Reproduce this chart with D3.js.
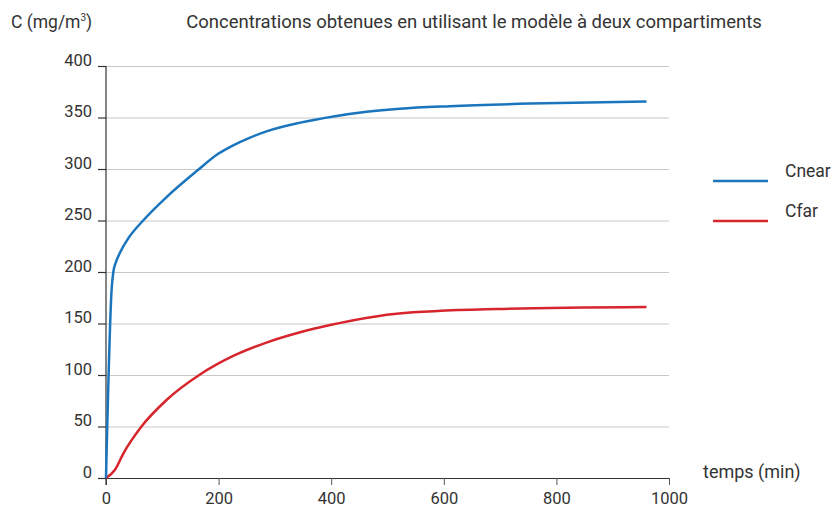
<!DOCTYPE html>
<html>
<head>
<meta charset="utf-8">
<script src="https://cdn.jsdelivr.net/npm/d3@7"></script>
<style>
  body { margin: 0; background: #fff; }
  text { font-family: Roboto, "DejaVu Sans", sans-serif; fill: #333; }
</style>
</head>
<body>
<svg id="chart"></svg>
<script>
// time (min) and concentrations (mg/m3)
var timeNear = [0, 10, 13, 18, 25, 40, 66, 108, 161, 200, 226, 256, 285, 345, 404, 463, 522, 611, 753, 960];
var cNear = [0, 183, 200, 210, 219, 233, 250, 273, 298, 315, 323, 330.5, 336.5, 345, 351, 355.5, 358.5, 361, 363.5, 365.5];
var timeFar = [0, 16, 31, 63, 108, 167, 226, 285, 345, 398, 433, 516, 694, 960];
var cFar = [0, 8, 24, 50, 76, 100.5, 118.5, 131.5, 141.5, 148.5, 152.5, 159.5, 164, 166];
var yTicks = [0, 50, 100, 150, 200, 250, 300, 350, 400];
var xTicks = [0, 200, 400, 600, 800, 1000];
var seriesNames = ['Cnear', 'Cfar'];
var colors = ['#1a75bd', '#d7252d'];

var width = 835, height = 507;
var margin = { top: 66, right: 166, bottom: 29, left: 106 };

var svg = d3.select('#chart').attr('width', width).attr('height', height);

var x = d3.scaleLinear().domain([0, 1000]).range([margin.left, width - margin.right]);
var y = d3.scaleLinear().domain([0, 400]).range([height - margin.bottom, margin.top]);

// grid lines
svg.append('g')
    .selectAll('line')
    .data(yTicks.filter(function (d) { return d > 0; }))
    .enter()
    .append('line')
    .attr('x1', margin.left)
    .attr('x2', width - margin.right)
    .attr('y1', function (d) { return y(d) + 0.5; })
    .attr('y2', function (d) { return y(d) + 0.5; })
    .style('stroke', '#c8c8c8')
    .style('stroke-width', 1);

// y ticks and labels
svg.append('g')
    .selectAll('line')
    .data(yTicks)
    .enter()
    .append('line')
    .attr('x1', margin.left - 8)
    .attr('x2', margin.left)
    .attr('y1', function (d) { return y(d) + 0.5; })
    .attr('y2', function (d) { return y(d) + 0.5; })
    .style('stroke', '#333')
    .style('stroke-width', 1.2);

svg.append('g')
    .selectAll('text')
    .data(yTicks)
    .enter()
    .append('text')
    .attr('x', 92)
    .attr('y', function (d) { return y(d) - 0.5; })
    .attr('text-anchor', 'end')
    .style('font-size', '16.5px')
    .text(function (d) { return d; });

// x axis
var xAxis = svg.append('g')
    .attr('transform', 'translate(0,' + y(0) + ')')
    .call(d3.axisBottom(x).tickValues(xTicks).tickFormat(d3.format('d')).tickSize(7).tickPadding(7).tickSizeOuter(0));
xAxis.select('.domain').attr('d', 'M' + (margin.left - 8) + ',0.5H' + (width - margin.right)).style('stroke', '#333').style('stroke-width', 1.2);
xAxis.selectAll('.tick line').style('stroke', '#555');
xAxis.selectAll('.tick text').style('font-size', '16.5px').style('font-family', 'Roboto, sans-serif').style('fill', '#333');

// y axis line
svg.append('line')
    .attr('x1', margin.left).attr('x2', margin.left)
    .attr('y1', y(400)).attr('y2', y(0) + 7)
    .style('stroke', '#333').style('stroke-width', 1.2);

var line = d3.line()
    .x(function (d) { return x(d[0]); })
    .y(function (d) { return y(d[1]); })
    .curve(d3.curveMonotoneX);

svg.append('path')
    .attr('d', line(d3.zip(timeFar, cFar)))
    .attr('fill', 'none')
    .attr('stroke', colors[1])
    .attr('stroke-width', 2.5);

svg.append('path')
    .attr('d', line(d3.zip(timeNear, cNear)))
    .attr('fill', 'none')
    .attr('stroke', colors[0])
    .attr('stroke-width', 2.5);

// legend
var legend = svg.append('g')
    .selectAll('g')
    .data(seriesNames)
    .enter()
    .append('g')
    .attr('transform', function (d, i) { return 'translate(713,' + (181 + i * 40) + ')'; });
legend.append('line')
    .attr('x1', 0).attr('x2', 55)
    .style('stroke', function (d, i) { return colors[i]; })
    .style('stroke-width', 2.5);
legend.append('text')
    .attr('x', 72).attr('y', -4)
    .style('font-size', '17.5px')
    .text(function (d) { return d; });

// titles
svg.append('text').attr('x', 11).attr('y', 28).style('font-size', '17.5px')
    .html('C (mg/m<tspan dy="-7" style="font-size:10px">3</tspan><tspan dy="7">)</tspan>');
svg.append('text').attr('x', 474).attr('y', 28).attr('text-anchor', 'middle').style('font-size', '18.5px')
    .text('Concentrations obtenues en utilisant le modèle à deux compartiments');
svg.append('text').attr('x', 703).attr('y', 478).style('font-size', '18px')
    .text('temps (min)');
</script>
</body>
</html>
